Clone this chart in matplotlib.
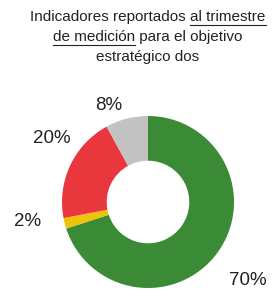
import numpy as np
import matplotlib.pyplot as plt

# data
labels = ['Cumplido', 'En proceso', 'No cumplido', 'Sin reporte']
values = [70, 2, 20, 8]
colors = ['#3b8a36', '#efc30a', '#e8383d', '#c2c2c2']

title_lines = [
    ('Indicadores reportados ', 'al trimestre', ''),
    ('', 'de medición', ' para el objetivo'),
    ('estratégico dos', '', ''),
]

plt.rcParams['font.family'] = ['Liberation Sans', 'DejaVu Sans']

W, H = 274, 290
fig = plt.figure(figsize=(W / 100, H / 100), dpi=100)

# donut
cx, cy, r = 148, 202, 86
ax = fig.add_axes([(cx - r) / W, (H - cy - r) / H, 2 * r / W, 2 * r / H])
wedges, _, autotexts = ax.pie(values, colors=colors, startangle=90, counterclock=False,
                              autopct='%d%%', pctdistance=1.4,
                              wedgeprops=dict(width=0.52, edgecolor='none'),
                              textprops=dict(fontsize=13.5, color='#222222'))
# nudge percentage labels (distance, angle shift in degrees)
label_dist = [1.48, 1.42, 1.34, 1.21]
label_shift = [-2, -5, -8, 8]
for w, t, d, s in zip(wedges, autotexts, label_dist, label_shift):
    a = np.deg2rad((w.theta1 + w.theta2) / 2 + s)
    t.set_position((d * np.cos(a), d * np.sin(a)))
ax.set_xlim(-1, 1)
ax.set_ylim(-1, 1)
ax.set_aspect('equal')
ax.axis('off')

# title with underlined parts
fig.canvas.draw()
renderer = fig.canvas.get_renderer()
fs = 11
y0 = 17
for i, (a, b, c) in enumerate(title_lines):
    y = 1 - (y0 + i * 20) / H
    parts = [a, b, c]
    widths = []
    for p in parts:
        if p:
            t = fig.text(0, 0, p.replace(' ', '\u00a0'), fontsize=fs)
            widths.append(t.get_window_extent(renderer).width)
            t.remove()
        else:
            widths.append(0)
    total = sum(widths)
    x = 148 - total / 2
    for p, w, und in zip(parts, widths, [False, True, False]):
        if p:
            fig.text(x / W, y, p.replace(' ', '\u00a0'), fontsize=fs,
                     va='center', ha='left', color='#222222')
            if und:
                uy = y - 8 / H
                fig.add_artist(plt.Line2D([x / W, (x + w) / W], [uy, uy],
                                          color='#222222', lw=0.8))
        x += w

fig.savefig('out.png', dpi=100)
